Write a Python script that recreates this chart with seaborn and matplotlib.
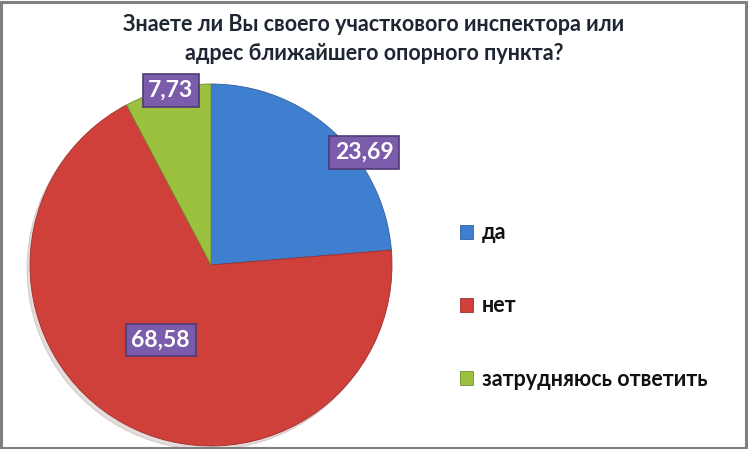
import matplotlib
matplotlib.use("Agg")
import matplotlib.pyplot as plt
from matplotlib.patches import Patch
import seaborn as sns
import numpy as np

categories = ["да", "нет", "затрудняюсь ответить"]
values = [23.69, 68.58, 7.73]
value_labels = ["23,69", "68,58", "7,73"]
colors = ["#3F7FCF", "#D0403B", "#9BC13F"]
edge_colors = ["#2F5F9F", "#9F2F2B", "#6F8F2F"]
title = "Знаете ли Вы своего участкового инспектора или\nадрес ближайшего опорного пункта?"

sns.set_theme(style="white")
plt.rcParams['font.family'] = ['Lato', 'DejaVu Sans']

fig = plt.figure(figsize=(7.48, 4.49), dpi=100)
W, H = 748, 449
cx, cy, R = 211, 265, 181
ax = fig.add_axes([(cx - R) / W, (H - cy - R) / H, 2 * R / W, 2 * R / H])
wedges, _ = ax.pie(values, colors=colors, startangle=90, counterclock=False,
                   radius=1, wedgeprops=dict(linewidth=0.8, edgecolor="#ffffff"),
                   shadow=dict(ox=-0.012, oy=-0.015, shade=0.6, alpha=0.15))
for w, ec in zip(wedges, edge_colors):
    w.set_edgecolor(ec)
    w.set_linewidth(0.6)
ax.set_xlim(-1, 1)
ax.set_ylim(-1, 1)
ax.set_aspect("equal")
ax.axis("off")

# label positions: (angle offset from wedge midpoint in deg, radius)
label_pos = [(-11, 1.05), (-5, 0.50), (-1, 0.99)]
for w, lab, (da, r) in zip(wedges, value_labels, label_pos):
    mid = np.deg2rad((w.theta1 + w.theta2) / 2 + da)
    x, y = r * np.cos(mid), r * np.sin(mid)
    ax.text(x, y, lab, ha="center", va="center", fontsize=16.5, fontweight="bold",
            color="white", zorder=5,
            bbox=dict(boxstyle="square,pad=0.25", facecolor="#7B5CAA",
                      edgecolor="#4F3A75", linewidth=1.2))

fig.text(0.5, 0.913, title, ha="center", va="center", fontsize=15.5,
         fontweight="bold", color="#1F2633", linespacing=1.5)

handles = [Patch(facecolor=c, edgecolor=ec, linewidth=0.6) for c, ec in zip(colors, edge_colors)]
leg = fig.legend(handles, categories, loc="upper left",
                 bbox_to_anchor=(441 / W, 1 - 203 / H), frameon=False,
                 fontsize=15.5, handlelength=0.6, handleheight=0.6,
                 handletextpad=0.4, labelspacing=2.42)
for t in leg.get_texts():
    t.set_color("#111111")
    t.set_fontweight("bold")

border = plt.Rectangle((0.002, 0.003), 0.995, 0.993, transform=fig.transFigure,
                       fill=False, edgecolor="#7F7F7F", linewidth=2.2)
fig.patches.append(border)

fig.savefig("out.png", dpi=100)
